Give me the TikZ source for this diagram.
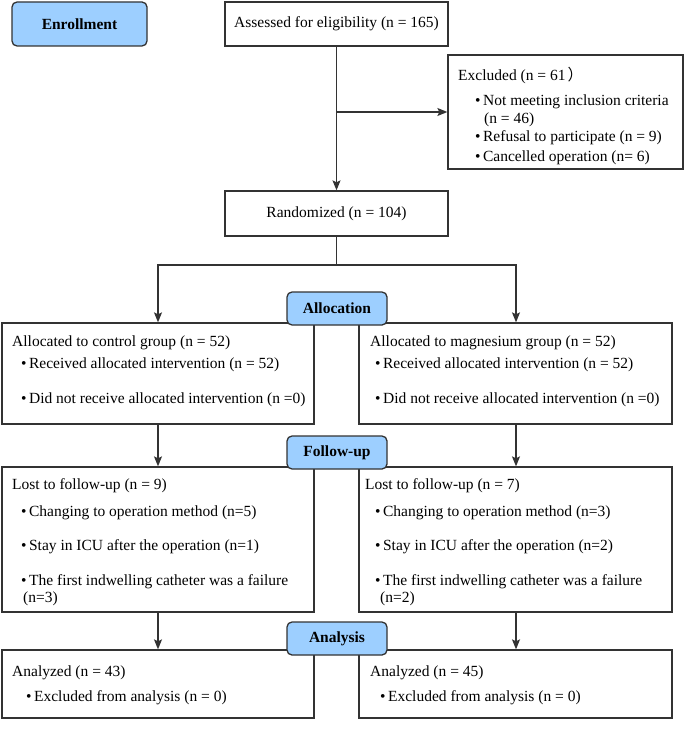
\documentclass[tikz,border=0pt]{standalone}
\usepackage{fontspec}
\setmainfont{Liberation Serif}
\newfontfamily\cjk{Noto Sans CJK SC}
\usetikzlibrary{arrows.meta}
\definecolor{stageblue}{HTML}{9DCFFF}
\definecolor{edge}{HTML}{333333}
\newcommand{\bul}{•\kern2.5pt}
\begin{document}
\begin{tikzpicture}[x=1pt,y=-1pt,
  every node/.style={font=\fontsize{15.5}{18}\selectfont},
  box/.style={draw=edge, line width=1.3pt, fill=white, inner sep=0pt},
  stage/.style={draw=edge, line width=1.3pt, fill=stageblue, rounded corners=5pt, inner sep=0pt, font=\fontsize{15.5}{18}\selectfont\bfseries},
  txt/.style={anchor=west, inner sep=0pt, text height=12pt, text depth=4pt},
  ctxt/.style={inner sep=0pt, text height=12pt, text depth=4pt},
  ln/.style={draw=edge, line width=1.2pt},
  arr/.style={draw=edge, line width=1.2pt, -{Stealth[length=10pt,width=8pt,inset=2pt]}}]
\useasboundingbox (0,0) rectangle (685,730);
% boxes
\node[box, minimum width=223pt, minimum height=44pt] (assess) at (336.5,24) {};
\node[box, minimum width=235pt, minimum height=114pt] (excl) at (565.5,112) {};
\node[box, minimum width=223pt, minimum height=45pt] (rand) at (336.5,213.5) {};
\node[box, minimum width=312pt, minimum height=101pt] (allocL) at (158,373.5) {};
\node[box, minimum width=313pt, minimum height=101pt] (allocR) at (515.5,373.5) {};
\node[box, minimum width=312pt, minimum height=145pt] (lostL) at (158,539.5) {};
\node[box, minimum width=313pt, minimum height=145pt] (lostR) at (515.5,539.5) {};
\node[box, minimum width=312pt, minimum height=68pt] (anL) at (158,684) {};
\node[box, minimum width=313pt, minimum height=68pt] (anR) at (515.5,684) {};
% texts
\node[ctxt] (tassess) at (336.5,24) {Assessed for eligibility (n = 165)};
\node[ctxt] (trand) at (336.5,213.5) {Randomized (n = 104)};
\node[txt] (te0) at (458,77) {Excluded (n = 61\kern2pt{\cjk ）}};
\node[txt] (te1) at (475,102) {\bul Not meeting inclusion criteria};
\node[txt] (te2) at (484,120) {(n = 46)};
\node[txt] (te3) at (475,138) {\bul Refusal to participate (n = 9)};
\node[txt] (te4) at (475,157) {\bul Cancelled operation (n= 6)};
% allocation texts
\node[txt] (tal0) at (12,342) {Allocated to control group (n = 52)};
\node[txt] (tal1) at (21,364) {\bul Received allocated intervention (n = 52)};
\node[txt] (tal2) at (21,399) {\bul Did not receive allocated intervention (n =0)};
\node[txt] (tar0) at (370,342) {Allocated to magnesium group (n = 52)};
\node[txt] (tar1) at (375,364) {\bul Received allocated intervention (n = 52)};
\node[txt] (tar2) at (375,399) {\bul Did not receive allocated intervention (n =0)};
% follow-up texts
\node[txt] (tll0) at (12,485) {Lost to follow-up (n = 9)};
\node[txt] (tll1) at (21,512) {\bul Changing to operation method (n=5)};
\node[txt] (tll2) at (21,546) {\bul Stay in ICU after the operation (n=1)};
\node[txt] (tll3) at (21,581) {\bul The first indwelling catheter was a failure};
\node[txt] (tll4) at (23,598) {(n=3)};
\node[txt] (tlr0) at (365,485) {Lost to follow-up (n = 7)};
\node[txt] (tlr1) at (375,512) {\bul Changing to operation method (n=3)};
\node[txt] (tlr2) at (375,546) {\bul Stay in ICU after the operation (n=2)};
\node[txt] (tlr3) at (375,581) {\bul The first indwelling catheter was a failure};
\node[txt] (tlr4) at (380,598) {(n=2)};
% analysis texts
\node[txt] (tnl0) at (12,672) {Analyzed (n = 43)};
\node[txt] (tnl1) at (26,697) {\bul Excluded from analysis (n = 0)};
\node[txt] (tnr0) at (370,672) {Analyzed (n = 45)};
\node[txt] (tnr1) at (380,697) {\bul Excluded from analysis (n = 0)};
% connectors
\coordinate (br) at (assess.south |- excl.west);
\coordinate (split) at (336.5,265);
\draw[arr] (assess.south) -- (rand.north);
\draw[arr] (br) -- (excl.west);
\draw[ln] (rand.south) -- (split);
\draw[arr] (split) -| (allocL.north);
\draw[arr] (split) -| ([xshift=0.5pt]allocR.north);
\draw[arr] (allocL.south) -- (lostL.north);
\draw[arr] ([xshift=0.5pt]allocR.south) -- ([xshift=0.5pt]lostR.north);
\draw[arr] (lostL.south) -- (anL.north);
\draw[arr] ([xshift=0.5pt]lostR.south) -- ([xshift=0.5pt]anR.north);
% stage labels
\node[stage, minimum width=135pt, minimum height=44pt] (enrol) at (79.5,24) {Enrollment};
\node[stage, minimum width=100pt, minimum height=33pt] (alloc) at (337,308.5) {Allocation};
\node[stage, minimum width=100pt, minimum height=33pt] (follow) at (337,452.5) {Follow-up};
\node[stage, minimum width=100pt, minimum height=33pt] (analysis) at (337,638.5) {Analysis};
\end{tikzpicture}
\end{document}
